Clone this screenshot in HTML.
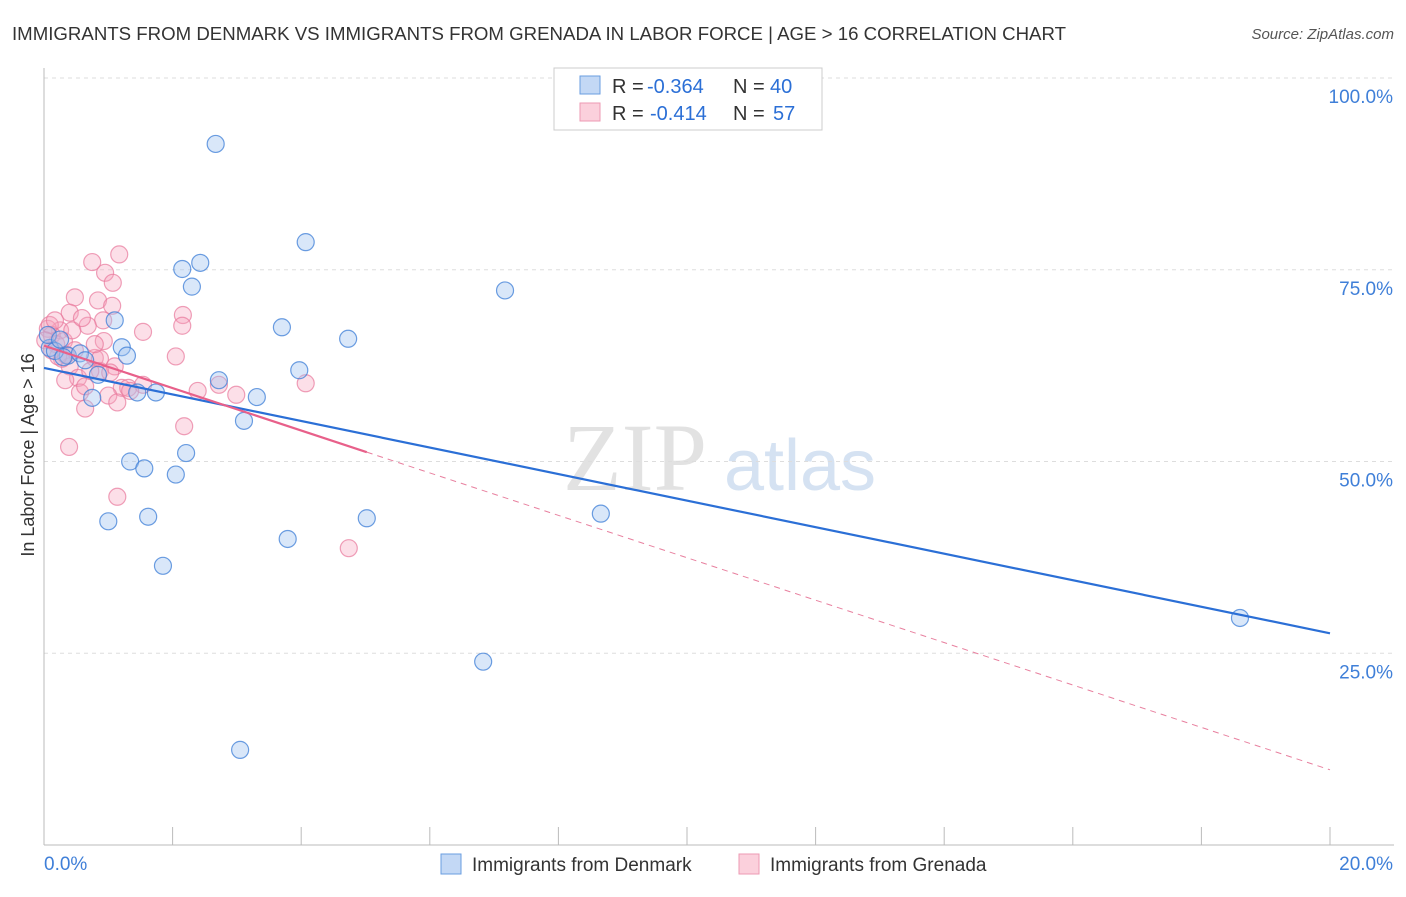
<!DOCTYPE html>
<html><head><meta charset="utf-8"><style>
body{margin:0;background:#fff;font-family:"Liberation Sans",sans-serif;}
</style></head><body>
<svg id="c" width="1406" height="892" xmlns="http://www.w3.org/2000/svg">
<text x="12" y="40" font-size="18" fill="#333" textLength="1054" lengthAdjust="spacingAndGlyphs">IMMIGRANTS FROM DENMARK VS IMMIGRANTS FROM GRENADA IN LABOR FORCE | AGE &gt; 16 CORRELATION CHART</text>
<text x="1394" y="39" font-size="15" fill="#555" font-style="italic" text-anchor="end">Source: ZipAtlas.com</text>
<text x="635" y="490" font-size="96" fill="#e2e2e2" font-family="Liberation Serif,serif" text-anchor="middle">ZIP</text>
<text x="800" y="490" font-size="72" fill="#d5e2f2" text-anchor="middle">atlas</text>
<text transform="translate(34,455) rotate(-90)" font-size="18" fill="#333" text-anchor="middle">In Labor Force | Age &gt; 16</text>
<g id="grid"></g><g id="pts"></g><g id="lines"></g>
<g>
<rect x="554" y="68" width="268" height="62" fill="#fff" stroke="#ccc"/>
<rect x="580" y="76" width="20" height="18" fill="#c3d8f5" stroke="#6a9ee0"/>
<rect x="580" y="103" width="20" height="18" fill="#fbd0dc" stroke="#ec9ab3"/>
<text x="612" y="93" font-size="20" fill="#333">R =</text>
<text x="647" y="93" font-size="20" fill="#2b6fd6">-0.364</text>
<text x="733" y="93" font-size="20" fill="#333">N =</text>
<text x="770" y="93" font-size="20" fill="#2b6fd6">40</text>
<text x="612" y="120" font-size="20" fill="#333">R =</text>
<text x="650" y="120" font-size="20" fill="#2b6fd6">-0.414</text>
<text x="733" y="120" font-size="20" fill="#333">N =</text>
<text x="773" y="120" font-size="20" fill="#2b6fd6">57</text>
</g>
<g>
<rect x="441" y="854" width="20" height="20" fill="#c3d8f5" stroke="#6a9ee0"/>
<text x="472" y="871" font-size="19" fill="#333">Immigrants from Denmark</text>
<rect x="739" y="854" width="20" height="20" fill="#fbd0dc" stroke="#ec9ab3"/>
<text x="770" y="871" font-size="19" fill="#333">Immigrants from Grenada</text>
</g>
</svg>
<script>
const xTicks=[0,20];
const yTicks=[25,50,75,100];
const denX=[2.67,4.07,2.43,2.15,2.30,7.17,1.10,3.70,4.73,1.21,1.29,3.97,2.72,0.84,0.37,0.56,0.09,0.17,0.64,0.30,0.75,1.45,1.74,3.31,3.11,2.21,1.34,1.56,2.05,1.00,1.62,5.02,8.66,3.79,1.85,6.83,3.05,18.60,0.06,0.25];
const denY=[91.4,78.6,75.9,75.1,72.8,72.3,68.4,67.5,66.0,64.9,63.8,61.9,60.6,61.3,63.8,64.1,64.8,64.4,63.2,63.6,58.3,59.0,59.0,58.4,55.3,51.1,50.0,49.1,48.3,42.2,42.8,42.6,43.2,39.9,36.4,23.9,12.4,29.6,66.5,65.9];
const grnX=[1.17,0.75,0.95,1.07,0.48,0.84,1.06,0.40,2.16,2.15,1.54,0.92,0.68,0.25,0.06,0.12,0.19,0.31,0.93,2.05,0.79,1.10,0.40,0.53,0.87,1.21,1.31,1.54,2.39,2.72,2.99,4.07,0.56,1.00,1.14,0.64,2.18,0.39,1.14,4.74,0.64,0.33,0.28,0.72,0.48,0.09,0.17,0.02,0.22,1.34,0.87,0.44,0.79,0.34,1.03,0.12,0.59];
const grnY=[77.0,76.0,74.6,73.3,71.4,71.0,70.3,69.4,69.1,67.7,66.9,68.4,67.7,67.1,67.3,66.5,65.3,65.7,65.7,63.7,63.5,62.4,62.4,60.9,61.8,59.6,59.6,60.0,59.2,60.0,58.7,60.2,59.0,58.6,57.7,56.9,54.6,51.9,45.4,38.7,59.8,60.6,63.4,61.8,64.5,67.8,68.4,65.8,63.7,59.2,63.4,67.1,65.3,63.9,61.6,64.5,68.7];
const trendDen=[62.2,27.6];
const trendGrn=[65.1,9.8];
const ns="http://www.w3.org/2000/svg";
const X0=44,X1=1330,Y0=845,Y100=78;
const sx=v=>X0+(v/20)*(X1-X0);
const sy=v=>Y0-(v/100)*(Y0-Y100);
function mk(t,a,p){const e=document.createElementNS(ns,t);for(const k in a)e.setAttribute(k,a[k]);p.appendChild(e);return e;}
const grid=document.getElementById('grid');
yTicks.forEach(t=>{
 const l=mk('line',{x1:X0,x2:1394,y1:sy(t),y2:sy(t),stroke:'#ddd','stroke-dasharray':'4,4'},grid);
 
 
 const tx=mk('text',{x:1393,y:sy(t)+25,'font-size':19,fill:'#3f7fd8','text-anchor':'end'},grid);
 tx.textContent=t.toFixed(1)+'%';
 
 
});
mk('line',{x1:X0,x2:X0,y1:68,y2:Y0,stroke:'#bbb'},grid);
mk('line',{x1:X0,x2:1394,y1:Y0,y2:Y0,stroke:'#bbb'},grid);
for(let i=0;i<=10;i++){const x=X0+i*(X1-X0)/10;mk('line',{x1:x,x2:x,y1:Y0-18,y2:Y0,stroke:'#bbb'},grid);}
xTicks.forEach((t,i)=>{
 const tx=mk('text',{x:i?1393:44,y:870,'font-size':19,fill:'#3f7fd8','text-anchor':i?'end':'start'},grid);
 tx.textContent=t.toFixed(1)+'%';
 
 
});
const pts=document.getElementById('pts');
grnX.forEach((v,i)=>{
 const c=mk('circle',{cx:sx(v),cy:sy(grnY[i]),r:8.5,fill:'rgba(246,164,190,0.35)',stroke:'rgba(232,120,155,0.7)','stroke-width':1.2},pts);
 
 
});
denX.forEach((v,i)=>{
 const c=mk('circle',{cx:sx(v),cy:sy(denY[i]),r:8.5,fill:'rgba(160,196,240,0.4)',stroke:'rgba(60,125,215,0.75)','stroke-width':1.2},pts);
 
 
});
const lg=document.getElementById('lines');
const ty=(tr,x)=>tr[0]+(tr[1]-tr[0])*x/20;
const bl=mk('line',{x1:sx(0),y1:sy(ty(trendDen,0)),x2:sx(20),y2:sy(ty(trendDen,20)),stroke:'#2b6fd6','stroke-width':2.2},lg);


const pl=mk('line',{x1:sx(0),y1:sy(ty(trendGrn,0)),x2:sx(5.02),y2:sy(ty(trendGrn,5.02)),stroke:'#e8608a','stroke-width':2.2},lg);


const pd=mk('line',{x1:sx(5.02),y1:sy(ty(trendGrn,5.02)),x2:sx(20),y2:sy(ty(trendGrn,20)),stroke:'#e8809f','stroke-width':1,'stroke-dasharray':'6,5'},lg);


</script>
</body></html>
